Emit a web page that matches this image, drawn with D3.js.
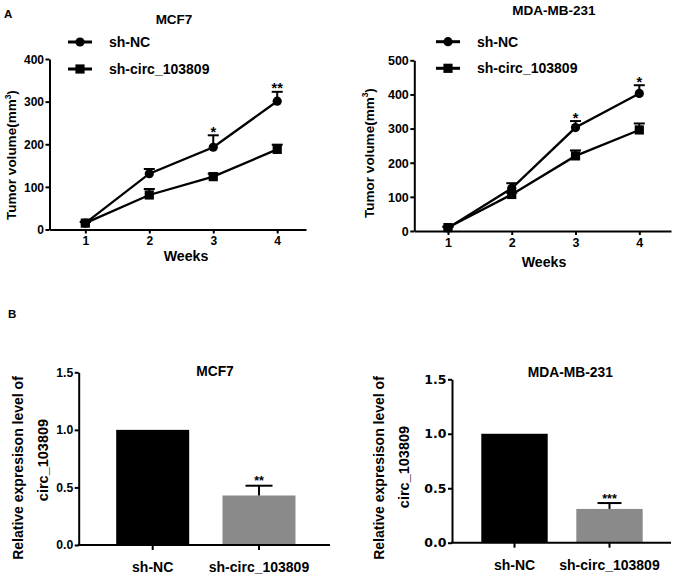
<!DOCTYPE html>
<html><head><meta charset="utf-8">
<script src="https://cdn.jsdelivr.net/npm/d3@7/dist/d3.min.js"></script>
<style>
body{margin:0;background:#fff;}
svg{display:block;font-family:"Liberation Sans",Arial,sans-serif;font-weight:bold;}
</style></head><body>
<svg id="c" width="677" height="579"></svg>
<script>
// ---- Data ----
const weeks = [1, 2, 3, 4];
const seriesNames = ["sh-NC", "sh-circ_103809"];
const mcf7_NC = [15, 131, 193, 301];
const mcf7_NC_err = [3, 11, 28, 22];
const mcf7_circ = [15, 81, 124, 188];
const mcf7_circ_err = [3, 14, 7, 11];
const mcf7_stars = ["", "", "*", "**"];
const mda_NC = [9, 125, 303, 403];
const mda_NC_err = [3, 15, 19, 24];
const mda_circ = [10, 107, 220, 296];
const mda_circ_err = [3, 5, 16, 19];
const mda_stars = ["", "", "*", "*"];
const yTicksMCF7 = [0, 100, 200, 300, 400];
const yTicksMDA = [0, 100, 200, 300, 400, 500];

const barCats = ["sh-NC", "sh-circ_103809"];
const barMCF7 = [1.0, 0.43];
const barMCF7_err = [0, 0.085];
const barMCF7_stars = ["", "**"];
const barMDA = [1.0, 0.31];
const barMDA_err = [0, 0.054];
const barMDA_stars = ["", "***"];
const yTicksBar = [0, 0.5, 1.0, 1.5];
const barColors = ["#000000", "#8a8a8a"];

const svg = d3.select("#c");

// panel letters
svg.append("text").attr("x", 4).attr("y", 18).attr("font-size", 11.5).text("A");
svg.append("text").attr("x", 8).attr("y", 318).attr("font-size", 11.5).text("B");

function lineChart(o) {
  const g = svg.append("g");
  const x = d3.scaleLinear().domain(o.xDom).range(o.xRange);
  const y = d3.scaleLinear().domain([0, o.yMax]).range(o.yRange);
  const xa = g.append("g").attr("transform", `translate(0,${o.yRange[0]})`)
    .call(d3.axisBottom(x).tickValues(weeks).tickFormat(d3.format("d")).tickSize(4).tickSizeOuter(0).tickPadding(3));
  const ya = g.append("g").attr("transform", `translate(${o.xRange[0]},0)`)
    .call(d3.axisLeft(y).tickValues(o.yTicks).tickSize(4).tickSizeOuter(0).tickPadding(1.5));
  [xa, ya].forEach(a => {
    a.selectAll("path,line").attr("stroke", "#000").attr("stroke-width", 2);
    a.selectAll("text").attr("font-size", o.tickFs).attr("font-family", "Liberation Sans, Arial, sans-serif").attr("font-weight", "bold").attr("fill", "#000");
  });
  xa.selectAll("text").attr("dy", o.xLabDy);
  ya.selectAll("text").attr("dy", "0.35em");

  const line = d3.line().x((d, i) => x(weeks[i])).y(d => y(d));
  const series = [
    {v: o.nc, e: o.ncErr, m: "circle"},
    {v: o.circ, e: o.circErr, m: "square"}
  ];
  series.forEach(s => {
    s.v.forEach((v, i) => {
      if (s.e[i] <= 0) return;
      g.append("line").attr("x1", x(weeks[i])).attr("x2", x(weeks[i]))
        .attr("y1", y(v)).attr("y2", y(v + s.e[i])).attr("stroke", "#000").attr("stroke-width", 2);
      g.append("line").attr("x1", x(weeks[i]) - 5.5).attr("x2", x(weeks[i]) + 5.5)
        .attr("y1", y(v + s.e[i])).attr("y2", y(v + s.e[i])).attr("stroke", "#000").attr("stroke-width", 2);
    });
    g.append("path").attr("d", line(s.v)).attr("fill", "none").attr("stroke", "#000").attr("stroke-width", 2.3);
    s.v.forEach((v, i) => {
      if (s.m === "circle") g.append("circle").attr("cx", x(weeks[i])).attr("cy", y(v)).attr("r", 4.6).attr("fill", "#000");
      else g.append("rect").attr("x", x(weeks[i]) - 4.6).attr("y", y(v) - 4.6).attr("width", 9.2).attr("height", 9.2).attr("fill", "#000");
    });
  });
  o.stars.forEach((s, i) => {
    if (!s) return;
    const top = Math.max(o.nc[i] + o.ncErr[i], o.circ[i] + o.circErr[i]);
    g.append("text").attr("x", x(weeks[i])).attr("y", y(top) + 1.5).attr("text-anchor", "middle")
      .attr("font-size", 14.5).text(s);
  });
  g.append("text").attr("x", o.titleX).attr("y", o.titleY).attr("text-anchor", "middle").attr("font-size", 13.5).text(o.title);
  seriesNames.forEach((n, i) => {
    const ly = o.legY[i];
    g.append("line").attr("x1", o.legX).attr("x2", o.legX + 24).attr("y1", ly).attr("y2", ly).attr("stroke", "#000").attr("stroke-width", 3);
    if (i === 0) g.append("circle").attr("cx", o.legX + 12).attr("cy", ly).attr("r", 4.6);
    else g.append("rect").attr("x", o.legX + 12 - 4.6).attr("y", ly - 4.6).attr("width", 9.2).attr("height", 9.2);
    g.append("text").attr("x", o.legX + 41).attr("y", ly + 5).attr("font-size", 14).text(n);
  });
  g.append("text").attr("x", o.wX).attr("y", o.wY).attr("text-anchor", "middle").attr("font-size", 14.2).text("Weeks");
  const yt = g.append("text").attr("transform", `translate(${o.ytX},${o.ytY}) rotate(-90)`).attr("text-anchor", "middle").attr("font-size", 13.5);
  yt.append("tspan").text("Tumor volume(mm");
  yt.append("tspan").text("3").attr("font-size", 8.5).attr("dy", -5.5);
  yt.append("tspan").text(")").attr("dy", 5.5);
}

lineChart({
  xDom: [0.44, 4.45], xRange: [49.5, 306], yMax: 400, yRange: [229.5, 59], yTicks: yTicksMCF7, tickFs: 12, xLabDy: "0.71em",
  nc: mcf7_NC, ncErr: mcf7_NC_err, circ: mcf7_circ, circErr: mcf7_circ_err, stars: mcf7_stars,
  title: "MCF7", titleX: 174, titleY: 24, legX: 68, legY: [42, 69],
  wX: 186, wY: 261, ytX: 16, ytY: 155
});
lineChart({
  xDom: [0.472, 4.497], xRange: [414.3, 671], yMax: 500, yRange: [231, 60.3], yTicks: yTicksMDA, tickFs: 12.5, xLabDy: "0.71em",
  nc: mda_NC, ncErr: mda_NC_err, circ: mda_circ, circErr: mda_circ_err, stars: mda_stars,
  title: "MDA-MB-231", titleX: 554, titleY: 15, legX: 436, legY: [41.7, 68.3],
  wX: 544, wY: 266.5, ytX: 373.5, ytY: 153
});

function barChart(o) {
  const g = svg.append("g");
  const x = d3.scalePoint().domain(barCats).range(o.centers);
  const y = d3.scaleLinear().domain([0, 1.5]).range(o.yRange);
  barCats.forEach((c, i) => {
    g.append("rect").attr("x", x(c) - o.bw / 2).attr("y", y(o.vals[i])).attr("width", o.bw)
      .attr("height", y(0) - y(o.vals[i])).attr("fill", barColors[i]);
    if (o.err[i] > 0) {
      g.append("line").attr("x1", x(c)).attr("x2", x(c)).attr("y1", y(o.vals[i])).attr("y2", y(o.vals[i] + o.err[i])).attr("stroke", "#000").attr("stroke-width", 2);
      g.append("line").attr("x1", x(c) - o.cap / 2).attr("x2", x(c) + o.cap / 2).attr("y1", y(o.vals[i] + o.err[i])).attr("y2", y(o.vals[i] + o.err[i])).attr("stroke", "#000").attr("stroke-width", 2);
    }
    if (o.stars[i]) g.append("text").attr("x", x(c)).attr("y", y(o.vals[i] + o.err[i]) - 0.5).attr("text-anchor", "middle").attr("font-size", 12.5).text(o.stars[i]);
  });
  const ya = g.append("g").attr("transform", `translate(${o.axX[0]},0)`)
    .call(d3.axisLeft(y).tickValues(yTicksBar).tickFormat(d3.format(".1f")).tickSize(4).tickSizeOuter(0).tickPadding(1.5));
  ya.selectAll("path,line").attr("stroke", "#000").attr("stroke-width", 2);
  ya.selectAll("text").attr("font-size", o.tickFs).attr("font-family", o.tickFont).attr("font-weight", "bold").attr("fill", "#000");
  g.append("line").attr("x1", o.axX[0] - 1).attr("x2", o.axX[1]).attr("y1", y(0)).attr("y2", y(0)).attr("stroke", "#000").attr("stroke-width", 2);
  barCats.forEach((c, i) => {
    g.append("line").attr("x1", x(c)).attr("x2", x(c)).attr("y1", y(0)).attr("y2", y(0) + 5).attr("stroke", "#000").attr("stroke-width", 2);
    g.append("text").attr("x", x(c)).attr("y", o.labY).attr("text-anchor", "middle").attr("font-size", 14).text(c);
  });
  g.append("text").attr("x", o.titleX).attr("y", o.titleY).attr("text-anchor", "middle").attr("font-size", 13.8).text(o.title);
  g.append("text").attr("transform", `translate(${o.yt1[0]},${o.yt1[1]}) rotate(-90)`).attr("text-anchor", "middle").attr("font-size", 14).text("Relative expresison level of");
  g.append("text").attr("transform", `translate(${o.yt2[0]},${o.yt2[1]}) rotate(-90)`).attr("text-anchor", "middle").attr("font-size", 14.5).text("circ_103809");
}

barChart({
  centers: [152.7, 259], yRange: [545, 372.3], bw: 73, cap: 27, vals: barMCF7, err: barMCF7_err, stars: barMCF7_stars,
  axX: [78.7, 330], tickFs: 12.2, tickFont: "Liberation Sans, Arial, sans-serif", labY: 572,
  title: "MCF7", titleX: 215, titleY: 376, yt1: [22.7, 468], yt2: [48.3, 460]
});
barChart({
  centers: [514.5, 609.5], yRange: [542.7, 379.3], bw: 66.4, cap: 24, vals: barMDA, err: barMDA_err, stars: barMDA_stars,
  axX: [452, 671], tickFs: 12.5, tickFont: "DejaVu Sans, sans-serif", labY: 570,
  title: "MDA-MB-231", titleX: 570.3, titleY: 377, yt1: [383.7, 468], yt2: [408.7, 467]
});
</script>
</body></html>
